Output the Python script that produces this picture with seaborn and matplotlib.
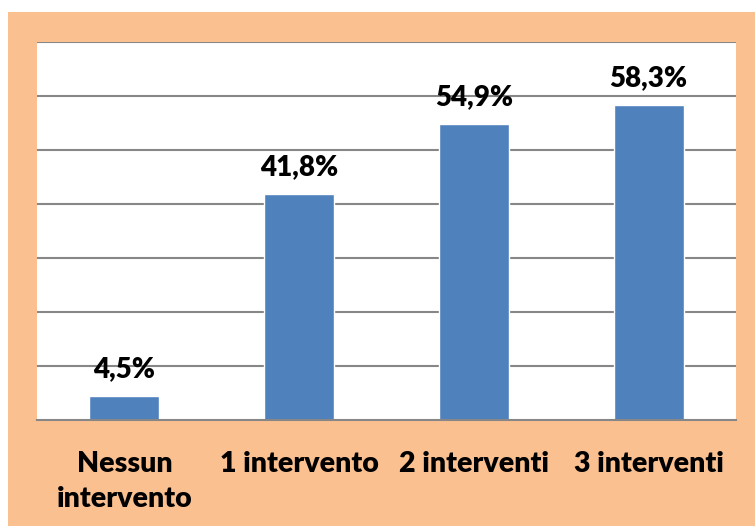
import matplotlib
matplotlib.use('Agg')
import matplotlib.pyplot as plt
import seaborn as sns
import pandas as pd
from matplotlib.patches import Rectangle

categories = ['Nessun\nintervento', '1 intervento', '2 interventi', '3 interventi']
values = [4.5, 41.8, 54.9, 58.3]
value_labels = ['4,5%', '41,8%', '54,9%', '58,3%']

orange = '#FAC090'
bar_color = '#4F81BD'
grid_color = '#878787'

sns.set_style('white')
plt.rcParams['font.family'] = ['Lato', 'DejaVu Sans']
plt.rcParams['text.color'] = 'black'
plt.rcParams['xtick.color'] = 'black'

df = pd.DataFrame({'cat': categories, 'val': values})

fig = plt.figure(figsize=(7.55, 5.26), dpi=100, facecolor='white')
# orange backdrop, leaving thin white strip at top/left like the original
fig.patches.append(Rectangle((8 / 755, 0), 1, (526 - 12) / 526,
                             transform=fig.transFigure, facecolor=orange,
                             edgecolor='none', zorder=-10))
ax = fig.add_axes([37 / 755, 106 / 526, 699 / 755, 378 / 526])
ax.set_facecolor('white')

sns.barplot(data=df, x='cat', y='val', color=bar_color, width=0.4,
            saturation=1, ax=ax, zorder=3)

ax.set_ylim(0, 70)
ax.set_xlim(-0.5, 3.5)
ax.set_yticks(range(10, 71, 10))
ax.set_yticklabels([])
ax.tick_params(axis='y', length=0)
ax.yaxis.grid(True, color=grid_color, linewidth=1.5)
ax.set_axisbelow(True)

for s in ['left', 'right', 'top']:
    ax.spines[s].set_visible(False)
ax.spines['bottom'].set_color(grid_color)
ax.spines['bottom'].set_linewidth(1.5)
ax.spines['bottom'].set_zorder(4)

ax.set_xticks([-0.5, 0.5, 1.5, 2.5, 3.5], minor=True)
ax.tick_params(axis='x', which='minor', length=7, width=1.5, color=grid_color, direction='out')
ax.tick_params(axis='x', which='major', length=0, pad=22, labelcolor='black')
for lab in ax.get_xticklabels():
    lab.set_fontsize(20.5)
    lab.set_fontweight('heavy')
    lab.set_linespacing(1.45)
    lab.set_verticalalignment('top')

ax.set_xlabel('')
ax.set_ylabel('')

for i, (v, t) in enumerate(zip(values, value_labels)):
    ax.annotate(t, (i, v), xytext=(0, 10), textcoords='offset points',
                ha='center', va='bottom', fontsize=20, fontweight='heavy',
                color='black')

fig.savefig('out.png', dpi=100, facecolor=fig.get_facecolor())
